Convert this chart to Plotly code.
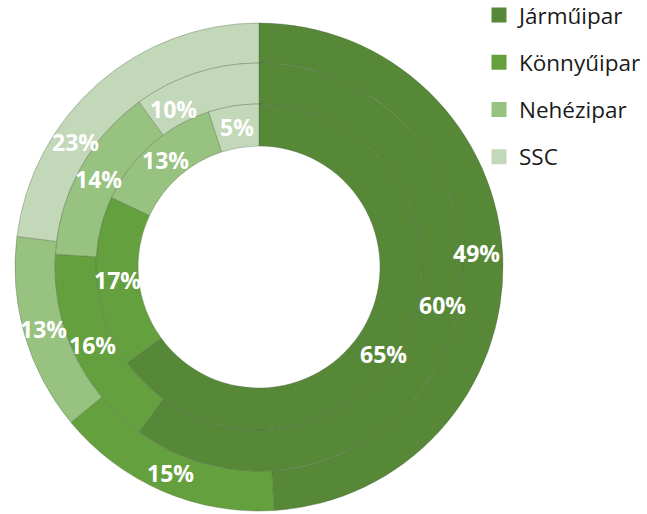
import math
import plotly.graph_objects as go

categories = ["Járműipar", "Könnyűipar", "Nehézipar", "SSC"]
outer_values = [49, 15, 13, 23]
middle_values = [60, 16, 14, 10]
inner_values = [65, 17, 13, 5]
colors = ["#578838", "#64a03d", "#97c280", "#c2d8b8"]

W, H = 647, 514
cx, cy = 259, 267  # ring centre in pixels (from top-left)
radii = [244, 204, 163, 121]

# manual label nudges (pixels) for labels moved away from the slice middle
nudges = {
    (0, 0): (-6, -7),
    (0, 3): (-35, 43),
    (1, 0): (9, -19),
    (1, 3): (-29, 17),
    (2, 0): (-2, 23),
}


def domain(r):
    return dict(
        x=[(cx - r) / W, (cx + r) / W],
        y=[(H - cy - r) / H, (H - cy + r) / H],
    )


fig = go.Figure()
rings = [outer_values, middle_values, inner_values]
annotations = []
for i, vals in enumerate(rings):
    r_out = radii[i]
    r_in = radii[i + 1]
    fig.add_trace(go.Pie(
        labels=categories,
        values=vals,
        sort=False,
        direction="clockwise",
        rotation=0,
        hole=r_in / r_out,
        domain=domain(r_out),
        marker=dict(colors=colors, line=dict(color="rgba(80,100,70,0.45)", width=0.8)),
        textinfo="none",
        showlegend=False,
        hoverinfo="label+value",
    ))
    total = sum(vals)
    cum = 0
    r_mid = (r_out + r_in) / 2
    for j, v in enumerate(vals):
        ang = math.radians((cum + v / 2) / total * 360)
        cum += v
        px = cx + r_mid * math.sin(ang)
        py = cy - r_mid * math.cos(ang)
        dx, dy = nudges.get((i, j), (0, 0))
        px += dx
        py += dy
        annotations.append(dict(
            x=px / W, y=1 - py / H, xref="paper", yref="paper",
            text=f"{v}%", showarrow=False, xanchor="center", yanchor="middle",
            font=dict(family="Open Sans", size=23, color="white", weight="bold"),
        ))

for name, col in zip(categories, colors):
    fig.add_trace(go.Scatter(
        x=[None], y=[None], mode="markers", name=name, legendgroup=name,
        marker=dict(symbol="square", size=15, color=col),
    ))

fig.update_layout(
    width=W, height=H,
    margin=dict(l=0, r=0, t=0, b=0, autoexpand=False),
    paper_bgcolor="white", plot_bgcolor="white",
    xaxis=dict(visible=False), yaxis=dict(visible=False),
    showlegend=True,
    legend=dict(
        x=479 / W, y=1.012, xanchor="left", yanchor="top",
        font=dict(family="Open Sans", size=22.5, color="#1a1a1a"),
        tracegroupgap=15, bgcolor="rgba(0,0,0,0)",
        itemclick=False,
    ),
    annotations=annotations,
)

fig.write_html("out.html", config={"displayModeBar": False},
               post_script="document.body.style.margin='0';")
